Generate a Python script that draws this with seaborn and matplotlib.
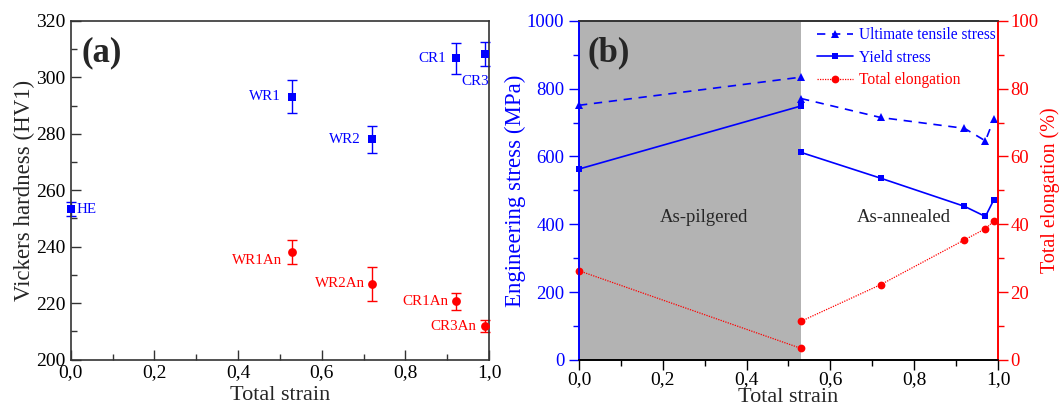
import matplotlib
matplotlib.use("Agg")
import numpy as np
import pandas as pd
import matplotlib.pyplot as plt
import seaborn as sns
from matplotlib.ticker import MultipleLocator, FuncFormatter
from matplotlib.lines import Line2D

# ---------------- data ----------------
# panel (a): Vickers hardness
hv_labels_rolled = ["HE", "WR1", "WR2", "CR1", "CR3"]
hv_strain_rolled = [0.0, 0.53, 0.72, 0.92, 0.99]
hv_rolled = [253.3, 293.1, 278.0, 306.8, 308.2]
hv_rolled_err = [2.4, 5.9, 4.9, 5.5, 4.2]

hv_labels_ann = ["WR1An", "WR2An", "CR1An", "CR3An"]
hv_strain_ann = [0.53, 0.72, 0.92, 0.99]
hv_ann = [238.1, 226.8, 220.7, 211.8]
hv_ann_err = [4.4, 6.0, 3.0, 2.2]

# panel (b): tensile properties
pilg_strain = [0.0, 0.53]
pilg_uts = [751, 834]
pilg_ys = [563, 749]
pilg_el = [26.3, 3.4]

ann_strain = [0.53, 0.72, 0.92, 0.97, 0.99]
ann_uts = [771, 715, 683, 646, 710]
ann_ys = [612, 536, 453, 423, 472]
ann_el = [11.4, 22.2, 35.4, 38.7, 40.9]

legend_labels = ["Ultimate tensile stress", "Yield stress", "Total elongation"]
region_labels = ["As-pilgered", "As-annealed"]

# ---------------- style ----------------
sns.set_style("ticks")
plt.rcParams["font.family"] = ["Liberation Serif", "DejaVu Serif"]
plt.rcParams["mathtext.fontset"] = "stix"

BLUE = "#0000ff"
RED = "#ff0000"
GREY = "#b3b3b3"
DARK = "#333333"

comma = FuncFormatter(lambda v, _: f"{v:.1f}".replace(".", ","))

fig = plt.figure(figsize=(10.61, 4.09), dpi=100)
axa = fig.add_axes([0.0666, 0.121, 0.3944, 0.828])
axb = fig.add_axes([0.5457, 0.120, 0.3949, 0.829])

# ---------------- panel (a) ----------------
df_r = pd.DataFrame({"strain": hv_strain_rolled, "hv": hv_rolled})
df_a = pd.DataFrame({"strain": hv_strain_ann, "hv": hv_ann})

axa.errorbar(hv_strain_rolled, hv_rolled, yerr=hv_rolled_err, fmt="none",
             ecolor=BLUE, elinewidth=1.0, capsize=3.5, capthick=1.0, clip_on=False, zorder=2)
axa.errorbar(hv_strain_ann, hv_ann, yerr=hv_ann_err, fmt="none",
             ecolor=RED, elinewidth=1.0, capsize=3.5, capthick=1.0, clip_on=False, zorder=2)
sns.scatterplot(data=df_r, x="strain", y="hv", ax=axa, marker="s", s=32,
                color=BLUE, edgecolor=BLUE, linewidth=0, clip_on=False, zorder=3)
sns.scatterplot(data=df_a, x="strain", y="hv", ax=axa, marker="o", s=40,
                color=RED, edgecolor=RED, linewidth=0, clip_on=False, zorder=3)

# label offsets (points)
off_r = {"HE": (4, 0, "left"), "WR1": (-8, 0, "right"), "WR2": (-8, 0, "right"),
         "CR1": (-7, 0, "right"), "CR3": (3, -20, "right")}
off_a = {"WR1An": (-7, -6, "right"), "WR2An": (-5, 0, "right"),
         "CR1An": (-5, 0, "right"), "CR3An": (-6, 0, "right")}
for lab, x, y in zip(hv_labels_rolled, hv_strain_rolled, hv_rolled):
    dx, dy, ha = off_r[lab]
    axa.annotate(lab, (x, y), xytext=(dx, dy), textcoords="offset points",
                 ha=ha, va="center", color=BLUE, fontsize=10.8)
for lab, x, y in zip(hv_labels_ann, hv_strain_ann, hv_ann):
    dx, dy, ha = off_a[lab]
    axa.annotate(lab, (x, y), xytext=(dx, dy), textcoords="offset points",
                 ha=ha, va="center", color=RED, fontsize=10.8)

axa.set_xlim(0, 1.0)
axa.set_ylim(200, 320)
axa.xaxis.set_major_locator(MultipleLocator(0.2))
axa.xaxis.set_minor_locator(MultipleLocator(0.1))
axa.yaxis.set_major_locator(MultipleLocator(20))
axa.yaxis.set_minor_locator(MultipleLocator(10))
axa.xaxis.set_major_formatter(comma)
axa.tick_params(which="both", direction="in", colors=DARK, labelcolor="black",
                labelsize=14, width=1.0)
axa.tick_params(which="major", length=7)
axa.tick_params(which="minor", length=4)
for s in axa.spines.values():
    s.set_color(DARK)
    s.set_linewidth(1.2)
axa.set_xlabel("Total strain", fontsize=16, labelpad=3)
axa.set_ylabel("Vickers hardness (HV1)", fontsize=16.5, labelpad=1)
axa.text(0.027, 0.907, "(a)", transform=axa.transAxes, fontsize=25,
         fontweight="bold", va="center", ha="left")

# ---------------- panel (b) ----------------
axb.axvspan(pilg_strain[0], pilg_strain[-1], color=GREY, zorder=0, lw=0)

uts_kw = dict(color=BLUE, marker="^", markersize=6.2, linewidth=1.2,
              linestyle=(0, (5, 4)), markeredgewidth=0, clip_on=False)
ys_kw = dict(color=BLUE, marker="s", markersize=5.0, linewidth=1.2,
             linestyle="-", markeredgewidth=0, clip_on=False)
el_kw = dict(color=RED, marker="o", markersize=5.6, linewidth=0.9,
             linestyle=(0, (1, 1)), markeredgewidth=0, clip_on=False)

sns.lineplot(x=pilg_strain, y=pilg_uts, ax=axb, sort=False, errorbar=None, **uts_kw)
sns.lineplot(x=ann_strain, y=ann_uts, ax=axb, sort=False, errorbar=None, **uts_kw)
sns.lineplot(x=pilg_strain, y=pilg_ys, ax=axb, sort=False, errorbar=None, **ys_kw)
sns.lineplot(x=ann_strain, y=ann_ys, ax=axb, sort=False, errorbar=None, **ys_kw)

ax2 = axb.twinx()
sns.lineplot(x=pilg_strain, y=pilg_el, ax=ax2, sort=False, errorbar=None, **el_kw)
sns.lineplot(x=ann_strain, y=ann_el, ax=ax2, sort=False, errorbar=None, **el_kw)

axb.set_xlim(0, 1.0)
axb.set_ylim(0, 1000)
ax2.set_ylim(0, 100)
axb.xaxis.set_major_locator(MultipleLocator(0.2))
axb.xaxis.set_minor_locator(MultipleLocator(0.1))
axb.xaxis.set_major_formatter(comma)
axb.yaxis.set_major_locator(MultipleLocator(200))
axb.yaxis.set_minor_locator(MultipleLocator(100))
ax2.yaxis.set_major_locator(MultipleLocator(20))
ax2.yaxis.set_minor_locator(MultipleLocator(10))

axb.tick_params(axis="x", which="both", direction="out", colors="black", labelsize=14, width=1.0, pad=1)
axb.tick_params(axis="y", which="both", direction="out", colors=BLUE, labelsize=13.5, width=1.0)
ax2.tick_params(axis="y", which="both", direction="out", colors=RED, labelsize=13.5, width=1.0, pad=2)
for a in (axb, ax2):
    a.tick_params(which="major", length=7)
    a.tick_params(which="minor", length=4)

for a in (axb, ax2):
    a.spines["top"].set_visible(True)
    a.spines["top"].set_color(DARK)
    a.spines["bottom"].set_color("black")
    a.spines["left"].set_color(BLUE)
    a.spines["right"].set_visible(True)
    a.spines["right"].set_color(RED)
    for s in a.spines.values():
        s.set_linewidth(1.2)

axb.set_xlabel("Total strain", fontsize=16, labelpad=0)
axb.set_ylabel("Engineering stress (MPa)", fontsize=16.5, color=BLUE, labelpad=1)
ax2.set_ylabel("Total elongation (%)", fontsize=14.5, color=RED, labelpad=1)

axb.text(0.021, 0.907, "(b)", transform=axb.transAxes, fontsize=25,
         fontweight="bold", va="center", ha="left")
axb.text(0.298, 421, region_labels[0], fontsize=13.5, ha="center", va="center")
axb.text(0.776, 421, region_labels[1], fontsize=13.5, ha="center", va="center")

handles = [
    Line2D([], [], **{k: v for k, v in uts_kw.items() if k != "clip_on"}),
    Line2D([], [], **{k: v for k, v in ys_kw.items() if k != "clip_on"}),
    Line2D([], [], **{k: v for k, v in el_kw.items() if k != "clip_on"}),
]
leg = ax2.legend(handles, legend_labels, loc="upper left",
                 bbox_to_anchor=(0.763, 0.952), bbox_transform=fig.transFigure,
                 frameon=False, fontsize=11.2, borderpad=0, handlelength=2.3,
                 handletextpad=0.35, labelspacing=0.42)
for t, c in zip(leg.get_texts(), [BLUE, BLUE, RED]):
    t.set_color(c)

fig.savefig("out.png", dpi=100)
